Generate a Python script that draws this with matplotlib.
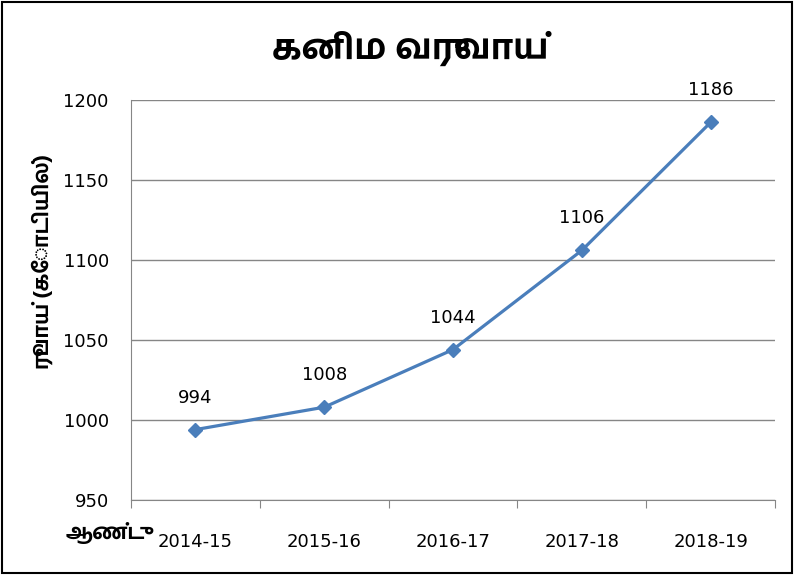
import matplotlib
matplotlib.use("Agg")
import matplotlib.pyplot as plt
from matplotlib.patches import Rectangle

years = ["2014-15", "2015-16", "2016-17", "2017-18", "2018-19"]
revenue = [994, 1008, 1044, 1106, 1186]

title = "கனிம வருவாய்"
y_label = "ரூபாய் (கோடியில்)"
x_label = "ஆண்டு"

LINE = "#4a7ebb"
GRID = "#868686"
TAMIL = ["Hind Madurai", "Lohit Tamil", "DejaVu Sans"]
NUM = "DejaVu Sans"

fig = plt.figure(figsize=(7.94, 5.75), dpi=100)
ax = fig.add_axes([131 / 794, 1 - 500 / 575, 644 / 794, 400 / 575])

x = list(range(len(years)))
ax.plot(x, revenue, color=LINE, linewidth=2.3, marker="D", markersize=7,
        markeredgecolor=LINE, markerfacecolor=LINE)
for xi, v in zip(x, revenue):
    ax.annotate(str(v), (xi, v), xytext=(0, 23), textcoords="offset points",
                ha="center", va="center", fontsize=13, family=NUM)

ax.set_xlim(-0.5, len(years) - 0.5)
ax.set_ylim(950, 1200)
ax.set_yticks(range(950, 1201, 50))
ax.yaxis.grid(True, color=GRID, linewidth=1)
ax.set_axisbelow(True)

ax.set_xticks([i + 0.5 for i in range(-1, len(years))])
ax.set_xticklabels([])
ax.set_xticks(x, minor=True)
ax.set_xticklabels(years, minor=True, fontsize=13, family=NUM)
ax.tick_params(axis="x", which="major", length=6, color=GRID, direction="out")
ax.tick_params(axis="x", which="minor", length=0, pad=24)
ax.tick_params(axis="y", length=0, pad=16, labelsize=13)
for t in ax.get_yticklabels():
    t.set_family(NUM)

for side in ["top", "right"]:
    ax.spines[side].set_visible(False)
ax.spines["left"].set_color(GRID)
ax.spines["bottom"].set_color(GRID)

fig.text(410 / 794, 1 - 48 / 575, title, ha="center", va="center",
         fontsize=25, fontweight="bold", family=TAMIL)
fig.text(42 / 794, 1 - 262 / 575, y_label, ha="center", va="center",
         rotation=90, fontsize=15, fontweight="bold", family=TAMIL)
fig.text(66 / 794, 1 - 533 / 575, x_label, ha="left", va="center",
         fontsize=15, fontweight="bold", family=TAMIL)

fig.add_artist(Rectangle((0.003, 0.004), 0.994, 0.992, transform=fig.transFigure,
                         fill=False, edgecolor="black", linewidth=1.5))

fig.savefig("out.png", dpi=100, facecolor="white")
